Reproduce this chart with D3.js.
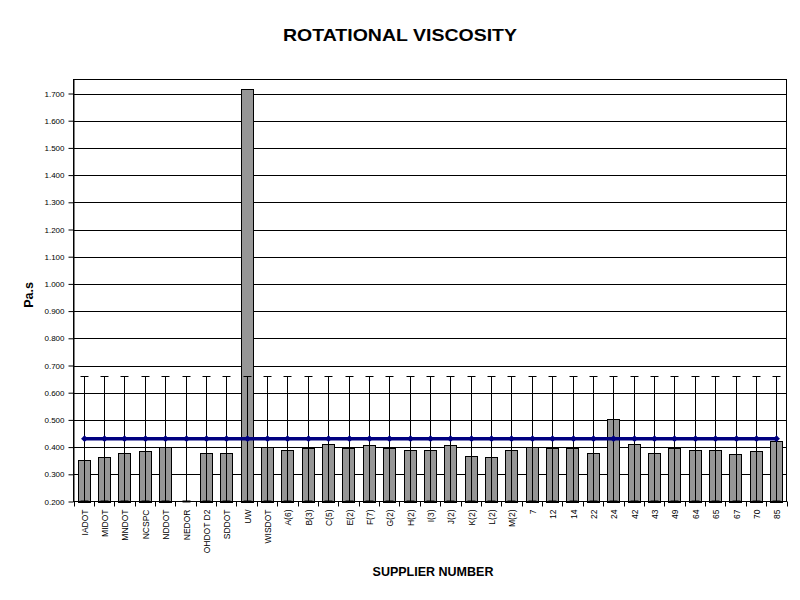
<!DOCTYPE html>
<html><head><meta charset="utf-8">
<script src="https://cdn.jsdelivr.net/npm/d3@7"></script>
<style>body{margin:0;background:#fff}svg{display:block}text{font-family:Arial,"Liberation Sans",sans-serif}</style>
</head><body>
<svg id="c" width="800" height="600"></svg>
<script>
const categories = ["IADOT","MIDOT","MNDOT","NCSPC","NDDOT","NEDOR","OHDOT D2","SDDOT","UW","WISDOT","A(6)","B(3)","C(5)","E(2)","F(7)","G(2)","H(2)","I(3)","J(2)","K(2)","L(2)","M(2)","7","12","14","22","24","42","43","49","64","65","67","70","85"];
const viscosity = [0.351,0.362,0.377,0.384,0.399,null,0.377,0.377,1.717,0.402,0.388,0.398,0.413,0.398,0.406,0.395,0.391,0.391,0.406,0.368,0.364,0.391,0.401,0.396,0.396,0.377,0.505,0.410,0.380,0.396,0.391,0.388,0.373,0.384,0.424];
const meanValue = [0.431,0.431,0.431,0.431,0.431,0.431,0.431,0.431,0.431,0.431,0.431,0.431,0.431,0.431,0.431,0.431,0.431,0.431,0.431,0.431,0.431,0.431,0.431,0.431,0.431,0.431,0.431,0.431,0.431,0.431,0.431,0.431,0.431,0.431,0.431];
const errorPlus = [0.229,0.229,0.229,0.229,0.229,0.229,0.229,0.229,0.229,0.229,0.229,0.229,0.229,0.229,0.229,0.229,0.229,0.229,0.229,0.229,0.229,0.229,0.229,0.229,0.229,0.229,0.229,0.229,0.229,0.229,0.229,0.229,0.229,0.229,0.229];
const errorMinus = [0.231,0.231,0.231,0.231,0.231,0.231,0.231,0.231,0.231,0.231,0.231,0.231,0.231,0.231,0.231,0.231,0.231,0.231,0.231,0.231,0.231,0.231,0.231,0.231,0.231,0.231,0.231,0.231,0.231,0.231,0.231,0.231,0.231,0.231,0.231];
const yTicks = [0.2,0.3,0.4,0.5,0.6,0.7,0.8,0.9,1.0,1.1,1.2,1.3,1.4,1.5,1.6,1.7];

const svg = d3.select("#c");
const L = 73.5, R = 786.5, T = 79.5, B = 501.5;
const x = d3.scaleBand().domain(categories).range([L, R]).paddingInner(0.4).paddingOuter(0.2);
const xb = d3.scaleBand().domain(categories).range([L, R]);
const y = d3.scaleLinear().domain([0.2, 1.7]).range([B, 93.5]);
const yMin = 0.2;

// title & axis titles
svg.append("text").attr("x", 400).attr("y", 41).attr("text-anchor", "middle")
  .attr("font-size", 17).attr("font-weight", "bold")
  .attr("textLength", 234).attr("lengthAdjust", "spacingAndGlyphs").text("ROTATIONAL VISCOSITY");
svg.append("text").attr("transform", "translate(33,295) rotate(-90)").attr("text-anchor", "middle")
  .attr("font-size", 12.5).attr("font-weight", "bold").text("Pa.s");
svg.append("text").attr("x", 433).attr("y", 576).attr("text-anchor", "middle")
  .attr("font-size", 12.5).attr("font-weight", "bold").text("SUPPLIER NUMBER");

// plot border & gridlines
const g = svg.append("g");
g.append("rect").attr("x", L).attr("y", T).attr("width", R - L).attr("height", B - T)
  .attr("fill", "#fff").attr("stroke", "#000").attr("stroke-width", 1);
g.selectAll("line.grid").data(yTicks.slice(1)).join("line").attr("class", "grid")
  .attr("x1", L).attr("x2", R).attr("y1", d => Math.round(y(d)) + 0.5).attr("y2", d => Math.round(y(d)) + 0.5)
  .attr("stroke", "#000").attr("stroke-width", 1);

// bars
g.selectAll("rect.bar").data(categories.map((c, i) => ({c, v: viscosity[i]})).filter(d => d.v != null)).join("rect")
  .attr("class", "bar")
  .attr("x", d => Math.round(x(d.c)) + 0.5)
  .attr("width", Math.round(x.bandwidth()))
  .attr("y", d => Math.round(y(d.v)) + 0.5)
  .attr("height", d => Math.round(y(yMin)) - Math.round(y(d.v)))
  .attr("fill", "#969696").attr("stroke", "#000").attr("stroke-width", 1);

// error bars
const cx = c => Math.round(xb(c) + xb.bandwidth() / 2) + 0.5;
const eb = g.append("g");
categories.forEach((c, i) => {
  const top = Math.round(y(meanValue[i] + errorPlus[i])) + 0.5;
  const bot = Math.round(y(Math.max(yMin, meanValue[i] - errorMinus[i]))) - 0.5;
  eb.append("line").attr("x1", cx(c)).attr("x2", cx(c)).attr("y1", top).attr("y2", bot).attr("stroke", "#000");
  eb.append("line").attr("x1", cx(c) - 4).attr("x2", cx(c) + 4).attr("y1", top).attr("y2", top).attr("stroke", "#000");
  eb.append("line").attr("x1", cx(c) - 4).attr("x2", cx(c) + 4).attr("y1", bot).attr("y2", bot).attr("stroke", "#000").attr("stroke-width", 2);
});

// mean line
const line = d3.line().x(d => cx(d.c)).y(d => y(d.v));
const md = categories.map((c, i) => ({c, v: meanValue[i]}));
g.append("path").datum(md).attr("d", line).attr("fill", "none").attr("stroke", "#000080").attr("stroke-width", 3.5);
g.selectAll("path.mk").data(md).join("path").attr("class", "mk")
  .attr("transform", d => `translate(${cx(d.c)},${y(d.v)})`)
  .attr("d", d3.symbol(d3.symbolDiamond2, 30)).attr("fill", "#000080");

// y axis
const ya = svg.append("g").attr("transform", `translate(${L},0)`)
  .call(d3.axisLeft(y).tickValues(yTicks).tickFormat(d3.format(".3f")).tickSize(5).tickPadding(4));
ya.select(".domain").attr("d", `M0.5,${T}V${B}`).attr("stroke", "#000");
ya.selectAll("text").attr("font-size", 8).attr("font-family", "Arial, Liberation Sans, sans-serif").attr("fill", "#000");
ya.selectAll(".tick line").attr("stroke", "#000");

// x axis
const xa = svg.append("g").attr("transform", `translate(0,${B})`);
xa.append("line").attr("x1", L).attr("x2", R).attr("y1", 0).attr("y2", 0).attr("stroke", "#000");
xa.selectAll("line.tk").data(categories.concat(["__end"])).join("line").attr("class", "tk")
  .attr("x1", (d, i) => Math.round(L + i * xb.step()) + 0.5).attr("x2", (d, i) => Math.round(L + i * xb.step()) + 0.5)
  .attr("y1", 0).attr("y2", 5).attr("stroke", "#000");
xa.selectAll("text").data(categories).join("text")
  .attr("transform", d => `translate(${cx(d) + 3},8) rotate(-90)`)
  .attr("text-anchor", "end").attr("font-size", 8.5).text(d => d);
</script>
</body></html>
